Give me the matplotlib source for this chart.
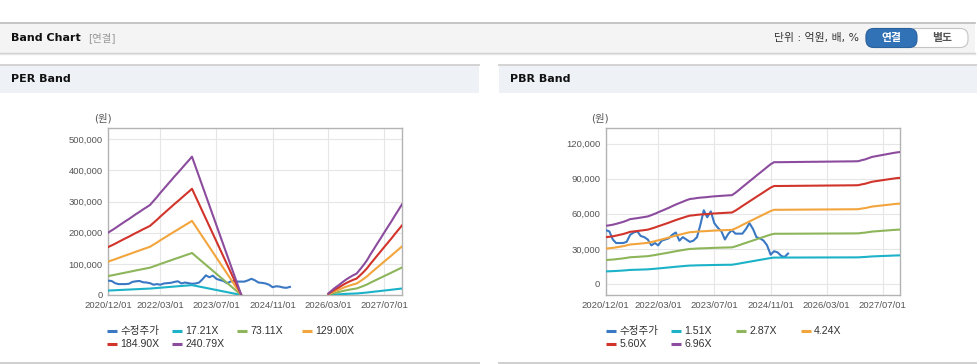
import numpy as np
import pandas as pd
import matplotlib
matplotlib.use("Agg")
import matplotlib.pyplot as plt
from matplotlib.patches import Rectangle, FancyBboxPatch
from matplotlib.lines import Line2D
import matplotlib.dates as mdates
from matplotlib.ticker import FuncFormatter

plt.rcParams['font.family'] = ['DejaVu Sans', 'Noto Sans CJK KR']

# ---------------- data ----------------
# adjusted price (monthly, from 2020-12)
price = [46000, 45000, 38000, 35000, 35000, 35000, 36000, 42000, 44000, 45000,
         41000, 40000, 38000, 33000, 35000, 33000, 37000, 38000, 39000, 42000,
         44000, 37000, 40000, 38000, 36000, 37000, 40000, 50000, 63000, 57000,
         62000, 52000, 48000, 45000, 38000, 43000, 46000, 43000, 43000, 43000,
         47000, 52000, 47000, 40000, 39000, 37000, 33000, 25000, 28000, 27000,
         24000, 23000, 26000]
price_start = "2020-12-01"

# EPS used for PER band (two segments)
eps_dates_a = [d.strftime("%Y-%m-%d") for d in pd.date_range("2020-12-01", "2022-12-01", freq="MS")] + ["2024-02-01"]
eps_a = [831, 860, 890, 920, 952, 983, 1013, 1045, 1078, 1108, 1140, 1170, 1200,
         1254, 1308, 1362, 1416, 1470, 1524, 1578, 1630, 1684, 1737, 1790, 1844, 8]
eps_dates_b = [d.strftime("%Y-%m-%d") for d in pd.date_range("2026-03-01", "2027-12-01", freq="MS")]
eps_b = [21, 62, 100, 133, 170, 205, 235, 262, 285, 340, 400, 466, 540, 614,
         688, 762, 836, 910, 984, 1060, 1135, 1209]
per_multiples = [17.21, 73.11, 129.00, 184.90, 240.79]
per_labels = ["17.21X", "73.11X", "129.00X", "184.90X", "240.79X"]

# BPS used for PBR band (monthly, from 2020-12 to 2027-12)
bps = [7140, 7200, 7280, 7380, 7500, 7620, 7780, 7960, 8020, 8080, 8150, 8220, 8290,
       8450, 8620, 8800, 8980, 9160, 9350, 9550, 9750, 9930, 10100, 10280, 10430,
       10480, 10550, 10600, 10630, 10670, 10720, 10760, 10790, 10820, 10850, 10880, 10900,
       11200, 11550, 11900, 12250, 12600, 12950, 13300, 13650, 14000, 14350, 14700, 14950,
       14950, 14950, 14960, 14960, 14970, 14970, 14980, 14980, 14990, 14990, 15000, 15000,
       15010, 15010, 15020, 15020, 15030, 15030, 15040, 15040, 15050, 15050, 15060, 15070,
       15200, 15300, 15450, 15600, 15680, 15760, 15840, 15920, 16000, 16080, 16150, 16200]
bps_start = "2020-12-01"
pbr_multiples = [1.51, 2.87, 4.24, 5.60, 6.96]
pbr_labels = ["1.51X", "2.87X", "4.24X", "5.60X", "6.96X"]

price_label = "수정주가"
xtick_dates = ["2020-12-01", "2022-03-01", "2023-07-01", "2024-11-01", "2026-03-01", "2027-07-01"]
x_range = ["2020-12-01", "2027-12-01"]
per_yticks = [0, 100000, 200000, 300000, 400000, 500000]
pbr_yticks = [0, 30000, 60000, 90000, 120000]

colors = ['#3b78c4', '#1cb2c8', '#8db55a', '#f3a53d', '#d1342b', '#8c4c9e']

# ---------------- figure ----------------
W, H = 978, 364
fig = plt.figure(figsize=(W / 100, H / 100), dpi=100)
fig.patch.set_facecolor('white')

def fx(x):
    return x / W

def fy(y):
    return 1 - y / H

def rect(x0, y0, x1, y1, fc, ec='none', lw=0, z=0):
    fig.add_artist(Rectangle((fx(x0), fy(y1)), (x1 - x0) / W, (y1 - y0) / H,
                             transform=fig.transFigure, facecolor=fc, edgecolor=ec,
                             linewidth=lw, zorder=z))

def hline(x0, x1, y, color, lw=1.0):
    fig.add_artist(Line2D([fx(x0), fx(x1)], [fy(y), fy(y)], transform=fig.transFigure,
                          color=color, linewidth=lw))

# top bar
rect(0, 22, 975, 52.5, '#f4f4f4')
hline(0, 975, 22.5, '#bdbdbd', 1.2)
hline(0, 975, 52.5, '#cfcfcf', 1.0)
hline(0, 975, 53.5, '#e6e6e6', 1.0)
fig.text(fx(11), fy(38), "Band Chart", fontsize=8, fontweight='bold', color='#111',
         va='center', ha='left')
fig.text(fx(88), fy(38), "[연결]", fontsize=7.5, color='#999', va='center', ha='left')
fig.text(fx(859), fy(38), "단위 : 억원, 배, %", fontsize=7.8, color='#333', va='center', ha='right')

# buttons
fig.add_artist(FancyBboxPatch((fx(866), fy(47.5)), (968 - 866) / W, (47.5 - 28.5) / H,
                              boxstyle="round,pad=0,rounding_size=0.008",
                              transform=fig.transFigure, facecolor='white',
                              edgecolor='#c4c4c4', linewidth=0.8, mutation_aspect=W / H))
fig.add_artist(FancyBboxPatch((fx(866), fy(47.5)), (917 - 866) / W, (47.5 - 28.5) / H,
                              boxstyle="round,pad=0,rounding_size=0.008",
                              transform=fig.transFigure, facecolor='#3171b5',
                              edgecolor='#2a62a0', linewidth=0.8, mutation_aspect=W / H))
fig.text(fx(891.5), fy(38), "연결", fontsize=7.8, fontweight='bold', color='white',
         va='center', ha='center')
fig.text(fx(942.5), fy(38), "별도", fontsize=7.8, fontweight='bold', color='#555',
         va='center', ha='center')

# panel headers
for (x0, x1, title) in [(0, 479, "PER Band"), (499, 978, "PBR Band")]:
    rect(x0, 64.5, x1, 93, '#eef2f7')
    hline(x0, x1, 64.5, '#d3d3d3', 1.4)
    hline(x0, x1, 362.5, '#cfcfcf', 1.4)
    fig.text(fx(x0 + 11), fy(79.5), title, fontsize=8, fontweight='bold', color='#111',
             va='center', ha='left')

tick_font = ['Liberation Sans', 'Noto Sans CJK KR']

def style_axes(ax, yticks, ylim):
    ax.set_xlim(pd.Timestamp(x_range[0]), pd.Timestamp(x_range[1]))
    ax.set_ylim(*ylim)
    ax.set_xticks([pd.Timestamp(d) for d in xtick_dates])
    ax.xaxis.set_major_formatter(mdates.DateFormatter("%Y/%m/%d"))
    ax.set_yticks(yticks)
    ax.yaxis.set_major_formatter(FuncFormatter(lambda v, p: f"{int(v):,}"))
    ax.tick_params(length=0, labelsize=6.8, labelcolor='#555', pad=4)
    for lab in ax.get_xticklabels() + ax.get_yticklabels():
        lab.set_family(tick_font)
    ax.grid(True, color='#e6e6e6', linewidth=0.8)
    ax.set_axisbelow(True)
    for s in ax.spines.values():
        s.set_color('#b3b3b3')
        s.set_linewidth(1.0)

def legend(x_left, labels):
    offsets = [0, 65, 130, 195]
    rows = [330.7, 344]
    for i, (lab, col) in enumerate(zip(labels, colors)):
        r, c = divmod(i, 4)
        x = x_left + offsets[c]
        y = rows[r]
        fig.add_artist(Line2D([fx(x), fx(x + 10.5)], [fy(y), fy(y)], transform=fig.transFigure,
                              color=col, linewidth=2.2, solid_capstyle='butt'))
        fig.text(fx(x + 13.5), fy(y), lab, fontsize=7.6, color='#333', va='center', ha='left',
                 family=tick_font)

# ---------------- PER axes ----------------
ax1 = fig.add_axes([fx(108), fy(295), (402 - 108) / W, (295 - 128) / H])
price_dates = pd.date_range(price_start, periods=len(price), freq="MS")
ax1.plot(price_dates, price, color=colors[0], lw=1.5, zorder=3)
eps_dates = [pd.Timestamp(d) for d in eps_dates_a] + [pd.Timestamp("2025-01-01")] + [pd.Timestamp(d) for d in eps_dates_b]
eps_all = np.array(eps_a + [np.nan] + eps_b, dtype=float)
for k, m in enumerate(per_multiples):
    ax1.plot(eps_dates, eps_all * m, color=colors[k + 1], lw=1.5, zorder=4 + k)
style_axes(ax1, per_yticks, (0, 536000))
fig.text(fx(103), fy(118), "(원)", fontsize=7.5, color='#555', ha='center', va='center')
legend(106.7, [price_label] + per_labels)

# ---------------- PBR axes ----------------
ax2 = fig.add_axes([fx(605.7), fy(295), (900.3 - 605.7) / W, (295 - 128.3) / H])
ax2.plot(price_dates, price, color=colors[0], lw=1.5, zorder=3)
bps_dates = pd.date_range(bps_start, periods=len(bps), freq="MS")
bps_arr = np.array(bps, dtype=float)
for k, m in enumerate(pbr_multiples):
    ax2.plot(bps_dates, bps_arr * m, color=colors[k + 1], lw=1.5, zorder=4 + k)
style_axes(ax2, pbr_yticks, (-9400, 133000))
fig.text(fx(600), fy(118), "(원)", fontsize=7.5, color='#555', ha='center', va='center')
legend(605.7, [price_label] + pbr_labels)

fig.savefig("out.png", dpi=100, facecolor='white')
